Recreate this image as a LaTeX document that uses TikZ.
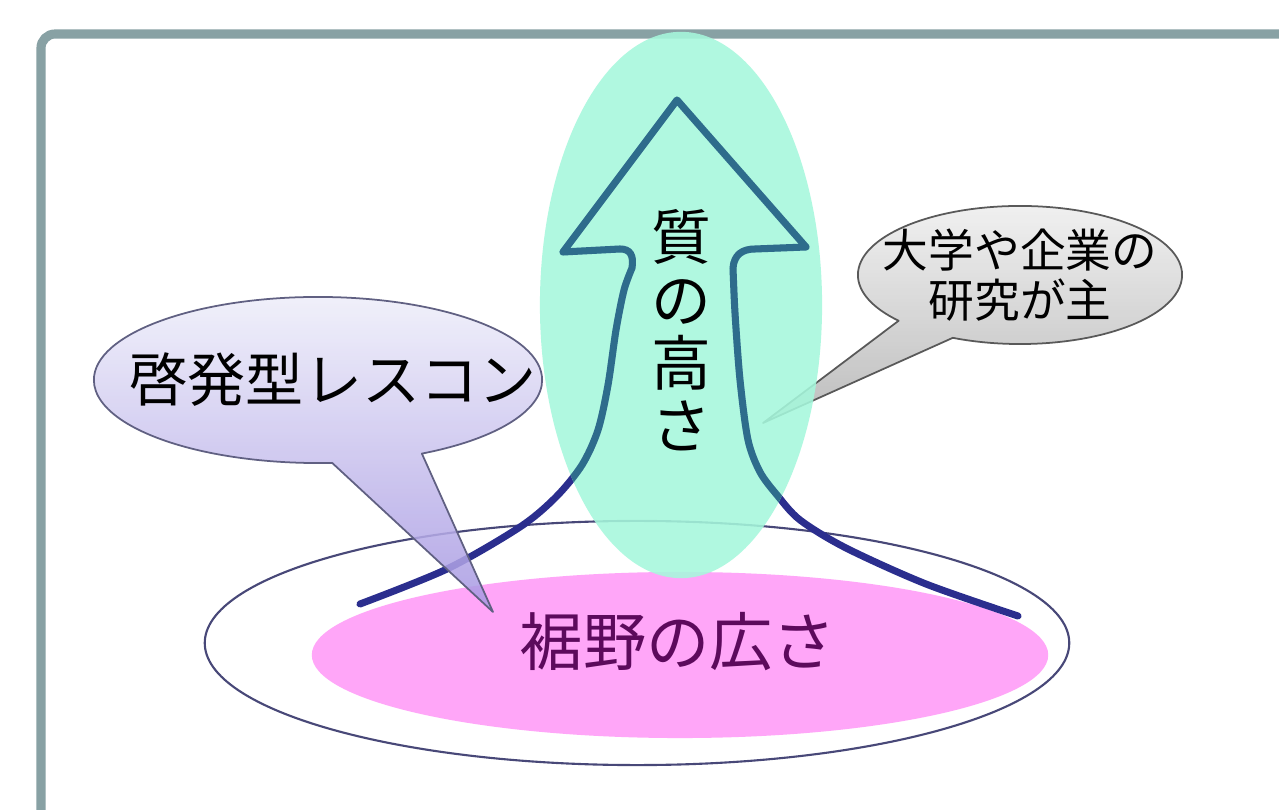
\documentclass[tikz,border=0pt]{standalone}
\usepackage{fontspec}
\setmainfont{Noto Sans CJK JP}
\usepackage{tikz}
\usetikzlibrary{shapes.geometric,shapes.callouts}

\definecolor{FrameGray}{RGB}{136,161,164}
\definecolor{PlateLine}{RGB}{72,72,120}
\definecolor{SkirtPink}{RGB}{255,166,248}
\definecolor{SkirtText}{RGB}{92,10,92}
\definecolor{PeakMint}{RGB}{166,248,220}
\definecolor{StemNavy}{RGB}{43,46,142}
\definecolor{StemTeal}{RGB}{46,108,140}
\definecolor{LavTop}{RGB}{238,238,250}
\definecolor{LavBottom}{RGB}{165,150,226}
\definecolor{LavLine}{RGB}{96,96,130}
\definecolor{GrayTop}{RGB}{238,238,238}
\definecolor{GrayBottom}{RGB}{178,178,178}

\newcommand{\stempath}{plot[smooth] coordinates {(360,604) (447,569) (520,527) (556,497)
    (582,465) (598,430) (608,385) (616,330) (624,290) (632,268)}
  .. controls (634,255) and (630,249) .. (620,249) -- (563,252) -- (677,100)
  -- (806,247) -- (755,249) .. controls (742,249) and (734,255) .. (733,268)
  -- plot[smooth] coordinates {(733,268) (735,313) (740,380) (748,440) (760,472)
    (777,495) (800,520) (846,548) (926,584) (1018,616)}}

\begin{document}
\begin{tikzpicture}[x=0.01cm, y=-0.01cm, line join=round,
      bubble/.style={ellipse callout, inner ysep=0pt, callout pointer arc=24,
        fill opacity=0.85, text opacity=1, line width=0.5pt, align=center},
      word/.style={inner sep=0pt, align=center}]
    \tikzstyle{stem} = [line width=2pt, line cap=round]
    \useasboundingbox (0,0) rectangle (1279,810);
    \fill[white] (0,0) rectangle (1279,810);
    \draw[FrameGray, line width=2.6pt, rounded corners=4] (41,34) rectangle (1330,860);

    \node (plate) [ellipse, draw=PlateLine, line width=0.6pt, fill=white,
      minimum width=8.64cm, minimum height=2.44cm] at (637,643) {};
    \node (skirt) [ellipse, fill=SkirtPink, minimum width=7.36cm, minimum height=1.66cm] at (680,655) {};

    \draw[stem, StemNavy] \stempath;

    \coordinate (lefttip) at (493,612);
    \coordinate (righttip) at (763,423);
    \node (lesscon) [bubble, draw=LavLine, top color=LavTop, bottom color=LavBottom,
      inner xsep=-0.6cm, minimum width=4.48cm, minimum height=1.66cm,
      callout absolute pointer={(lefttip)},
      font=\fontsize{16.5pt}{18pt}\selectfont] at (318,380) {\hspace*{0.3cm}啓発型レスコン};
    \node (research) [bubble, draw=black!65, top color=GrayTop, bottom color=GrayBottom,
      inner xsep=-0.23cm, minimum width=3.24cm, minimum height=1.38cm,
      callout absolute pointer={(righttip)},
      font=\fontsize{13pt}{14.2pt}\selectfont] at (1020,275) {大学や企業の\\研究が主};

    \node (peak) [ellipse, fill=PeakMint, fill opacity=0.88,
      minimum width=2.82cm, minimum height=5.46cm] at (681,305) {};
    \begin{scope}
      \clip (681,305) ellipse [x radius=1.41cm, y radius=2.73cm];
      \draw[stem, StemTeal] \stempath;
    \end{scope}

    \node (quality) [word, font=\fontsize{17pt}{17.9pt}\selectfont] at (681,330) {質\\の\\高\\さ};
    \node (breadth) [word, text=SkirtText, font=\fontsize{18pt}{20pt}\selectfont] at (678,642) {裾野の広さ};
  \end{tikzpicture}
\end{document}
